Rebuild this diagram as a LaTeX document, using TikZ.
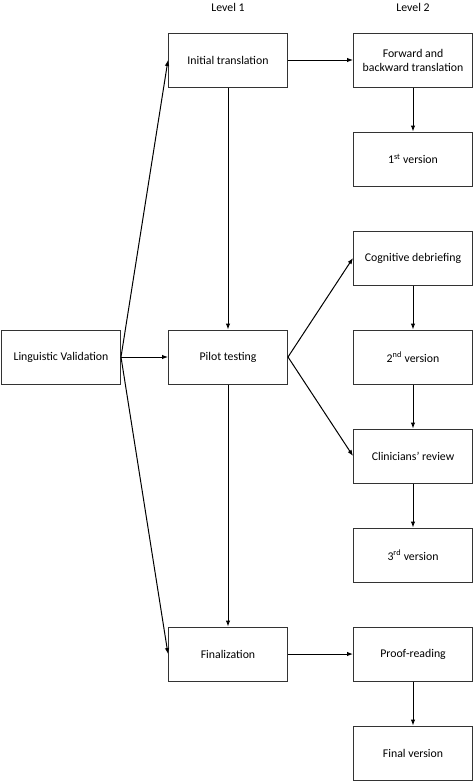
\documentclass[tikz,border=0pt]{standalone}
\usepackage{fontspec}
\setmainfont{Carlito}
\usetikzlibrary{arrows.meta}
\begin{document}
\begin{tikzpicture}[x=1pt,y=-1pt,
  box/.style={draw=black!80,line width=1pt,minimum width=119pt,minimum height=54pt,align=center,font=\fontsize{11.8}{14}\selectfont,inner sep=2pt},
  lab/.style={font=\fontsize{11.8}{14}\selectfont},
  arr/.style={-{Latex[length=6pt,width=4.5pt]},line width=1pt}]
\useasboundingbox (0,0) rectangle (474,782);
\node[lab] (l1) at (228,7) {Level 1};
\node[lab] (l2) at (413,7) {Level 2};
\node[box] (lv) at (61,357) {Linguistic Validation};
\node[box] (it) at (228,60) {Initial translation};
\node[box] (pt) at (228,357) {Pilot testing};
\node[box] (fi) at (228,654) {Finalization};
\node[box] (fb) at (413,60) {Forward and\\backward translation};
\node[box] (v1) at (413,159) {1\textsuperscript{st} version};
\node[box] (cd) at (413,258) {Cognitive debriefing};
\node[box] (v2) at (413,357) {2\textsuperscript{nd} version};
\node[box] (cr) at (413,456) {Clinicians' review};
\node[box] (v3) at (413,555) {3\textsuperscript{rd} version};
\node[box] (pr) at (413,654) {Proof-reading};
\node[box] (fv) at (413,753) {Final version};
\draw[arr] (lv.east) -- (it.west);
\draw[arr] (lv.east) -- (pt.west);
\draw[arr] (lv.east) -- (fi.west);
\draw[arr] (it.east) -- (fb.west);
\draw[arr] (fb.south) -- (v1.north);
\draw[arr] (it.south) -- (pt.north);
\draw[arr] (pt.east) -- (cd.west);
\draw[arr] (pt.east) -- (cr.west);
\draw[arr] (cd.south) -- (v2.north);
\draw[arr] (v2.south) -- (cr.north);
\draw[arr] (cr.south) -- (v3.north);
\draw[arr] (pt.south) -- (fi.north);
\draw[arr] (fi.east) -- (pr.west);
\draw[arr] (pr.south) -- (fv.north);
\end{tikzpicture}
\end{document}
